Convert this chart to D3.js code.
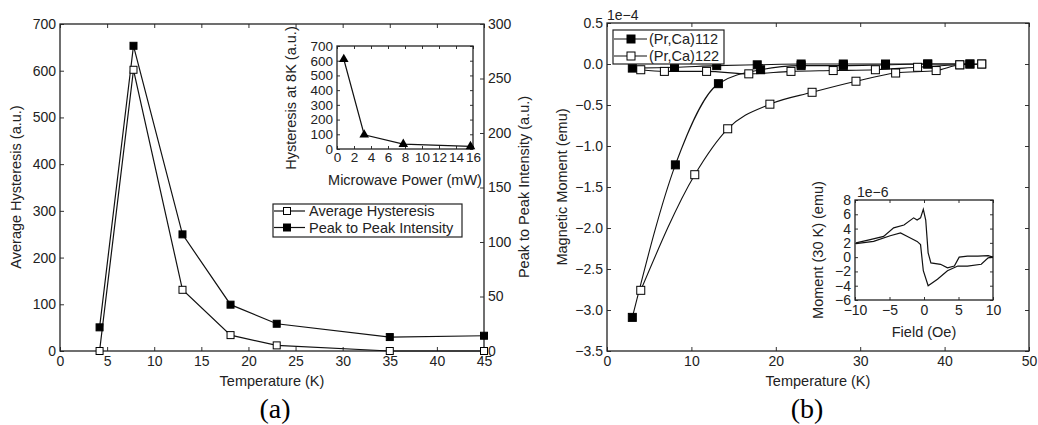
<!DOCTYPE html>
<html>
<head>
<meta charset="utf-8">
<script src="https://cdn.jsdelivr.net/npm/d3@7"></script>
<style>
  body { margin: 0; background: #fff; }
  text { font-family: "Liberation Sans", Arial, sans-serif; fill: #222; }
  .tick line { stroke: #333; }
  .caption { font-family: "Liberation Serif", "Times New Roman", serif; fill: #000; }
</style>
</head>
<body>
<svg id="chart" width="1038" height="425"></svg>
<script>
// ---- panel (a): temperature dependence ----
const tempA = [4.2, 7.8, 13, 18.1, 23, 35, 45];
const hysteresisA = [0, 602, 131, 34, 12, 0, 0];
const peakA = [21.7, 280, 107, 42.5, 25, 12.8, 14];

// panel (a) inset: hysteresis vs microwave power
const powerInset = [0.8, 3.2, 7.8, 15.7];
const hystInset = [610, 97, 33, 18];

// ---- panel (b): magnetic moment (x1e-4 emu) ----
const tempFC112 = [3, 8, 13, 17.8, 23, 28, 33, 38, 43];
const momFC112 = [-0.05, -0.04, -0.02, -0.01, 0, 0, 0, 0, 0];
const tempZFC112 = [3, 8.1, 13.2, 18.2, 23, 28, 33, 38, 43];
const momZFC112 = [-3.09, -1.23, -0.24, -0.07, -0.02, -0.02, -0.01, 0, 0];
const tempFC122 = [4, 6.8, 11.8, 16.8, 21.8, 26.8, 31.8, 36.8, 41.8, 44.4];
const momFC122 = [-0.07, -0.09, -0.09, -0.12, -0.09, -0.08, -0.07, -0.04, -0.01, 0];
const tempZFC122 = [4, 10.4, 14.3, 19.3, 24.3, 29.5, 34.2, 39, 41.8, 44.4];
const momZFC122 = [-2.76, -1.35, -0.79, -0.49, -0.345, -0.21, -0.11, -0.08, -0.01, 0];

// panel (b) inset: moment at 30 K vs field (x1e-6 emu)
const fieldUp = [-9.85, -7.8, -5.85, -4.4, -2.9, -1.5, -1.0, -0.5, -0.1, 0.25, 0.6, 1.0, 2.4, 3.4, 4.4, 5.1, 6.3, 7.8, 9.3, 10];
const momUp = [2.0, 2.45, 2.9, 4.1, 4.5, 5.5, 5.2, 5.5, 6.7, 5.2, 0.6, -0.8, -1.0, -1.5, -1.25, 0, 0.15, 0.15, 0.2, 0];
const fieldDown = [-9.85, -7.3, -4.9, -3.4, -2.4, -1.0, -0.5, -0.1, 0.6, 1.95, 3.4, 4.9, 6.3, 8.3, 9.3, 10];
const momDown = [1.9, 2.2, 3.0, 3.4, 2.9, 2.2, 1.75, -1.9, -4.0, -3.1, -1.9, -1.25, -1.25, -1.0, -0.1, 0];

const svg = d3.select("#chart");
const zip = (xs, ys) => xs.map((x, i) => [x, ys[i]]);

// draws a frame with inward ticks on all four sides
function frame(g, x, y, xTicks, yTicks, opts) {
  const [x0, x1] = x.range();
  const [y0, y1] = y.range(); // y0 bottom, y1 top
  const tk = opts.tick || 4;
  g.append("g").attr("transform", `translate(0,${y0})`)
    .call(d3.axisBottom(x).tickValues(xTicks).tickSize(-tk).tickSizeOuter(0).tickPadding(5).tickFormat(opts.xFmt || d3.format("d")))
    .call(a => a.select(".domain").remove());
  g.append("g").attr("transform", `translate(0,${y1})`)
    .call(d3.axisTop(x).tickValues(xTicks).tickSize(-tk).tickSizeOuter(0).tickFormat(""))
    .call(a => a.select(".domain").remove());
  g.append("g").attr("transform", `translate(${x0},0)`)
    .call(d3.axisLeft(y).tickValues(yTicks).tickSize(-tk).tickSizeOuter(0).tickPadding(4).tickFormat(opts.yFmt || d3.format("d")))
    .call(a => a.select(".domain").remove());
  if (!opts.noRight) {
    g.append("g").attr("transform", `translate(${x1},0)`)
      .call(d3.axisRight(y).tickValues(yTicks).tickSize(-tk).tickSizeOuter(0).tickFormat(""))
      .call(a => a.select(".domain").remove());
  }
  g.selectAll(".tick text").attr("font-size", opts.fs || 14).attr("font-family", "Liberation Sans, Arial, sans-serif").attr("fill", "#222");
  g.append("rect").attr("x", x0).attr("y", y1).attr("width", x1 - x0).attr("height", y0 - y1)
    .attr("fill", "none").attr("stroke", "#222").attr("stroke-width", 1.3);
}

function squares(g, pts, x, y, size, fill) {
  g.selectAll(null).data(pts).join("rect")
    .attr("x", d => x(d[0]) - size / 2).attr("y", d => y(d[1]) - size / 2)
    .attr("width", size).attr("height", size)
    .attr("fill", fill).attr("stroke", "#000").attr("stroke-width", 1);
}

// ================= panel (a) =================
const gA = svg.append("g");
const xA = d3.scaleLinear().domain([0, 45]).range([60, 484]);
const yA = d3.scaleLinear().domain([0, 700]).range([351, 24]);
const yA2 = d3.scaleLinear().domain([0, 300]).range([351, 24]);

frame(gA, xA, yA, d3.range(0, 46, 5), d3.range(0, 701, 100), { noRight: true });
gA.append("g").attr("transform", "translate(484,0)")
  .call(d3.axisRight(yA2).tickValues(d3.range(0, 301, 50)).tickSize(-4).tickSizeOuter(0).tickPadding(4))
  .call(a => a.select(".domain").remove())
  .call(a => a.selectAll(".tick text").attr("font-size", 14).attr("fill", "#222"));

const lineA = d3.line().x(d => xA(d[0])).y(d => yA(d[1]));
const lineA2 = d3.line().x(d => xA(d[0])).y(d => yA2(d[1]));
gA.append("path").attr("d", lineA(zip(tempA, hysteresisA))).attr("fill", "none").attr("stroke", "#111").attr("stroke-width", 1.2);
gA.append("path").attr("d", lineA2(zip(tempA, peakA))).attr("fill", "none").attr("stroke", "#111").attr("stroke-width", 1.2);
squares(gA, zip(tempA, hysteresisA), xA, yA, 7, "#fff");
squares(gA, zip(tempA, peakA), xA, yA2, 7, "#000");

gA.append("text").attr("x", 272).attr("y", 386).attr("text-anchor", "middle").attr("font-size", 14.5).text("Temperature (K)");
gA.append("text").attr("transform", "translate(21,187) rotate(-90)").attr("text-anchor", "middle").attr("font-size", 14.5).text("Average Hysteresis (a.u.)");
gA.append("text").attr("transform", "translate(529,187) rotate(-90)").attr("text-anchor", "middle").attr("font-size", 14.5).text("Peak to Peak Intensity (a.u.)");

// legend (a)
const legA = gA.append("g");
legA.append("rect").attr("x", 273).attr("y", 204).attr("width", 189).attr("height", 33)
  .attr("fill", "#fff").attr("stroke", "#222").attr("stroke-width", 1.2);
[["Average Hysteresis", "#fff", 211], ["Peak to Peak Intensity", "#000", 227.5]].forEach(([label, fill, cy]) => {
  legA.append("line").attr("x1", 274).attr("x2", 305).attr("y1", cy).attr("y2", cy).attr("stroke", "#111").attr("stroke-width", 1.2);
  legA.append("rect").attr("x", 287 - 3.5).attr("y", cy - 3.5).attr("width", 7).attr("height", 7).attr("fill", fill).attr("stroke", "#000");
  legA.append("text").attr("x", 309).attr("y", cy + 5).attr("font-size", 14.5).text(label);
});

// inset (a)
const gAi = gA.append("g");
const xAi = d3.scaleLinear().domain([0, 16]).range([337, 473]);
const yAi = d3.scaleLinear().domain([0, 700]).range([149, 46]);
gAi.append("rect").attr("x", 337).attr("y", 46).attr("width", 136).attr("height", 103).attr("fill", "#fff");
frame(gAi, xAi, yAi, d3.range(0, 17, 2), d3.range(0, 701, 100), { tick: 3, fs: 13.5 });
gAi.selectAll(".tick text").filter(function () { return this.parentNode.parentNode.getAttribute("transform").startsWith("translate(0"); })
  .attr("dy", "0.6em");
gAi.append("path").attr("d", d3.line().x(d => xAi(d[0])).y(d => yAi(d[1]))(zip(powerInset, hystInset)))
  .attr("fill", "none").attr("stroke", "#111").attr("stroke-width", 1.2);
gAi.selectAll(null).data(zip(powerInset, hystInset)).join("path")
  .attr("transform", d => `translate(${xAi(d[0])},${yAi(d[1])})`)
  .attr("d", d3.symbol(d3.symbolTriangle, 40)).attr("fill", "#000");
gAi.append("text").attr("x", 405).attr("y", 185).attr("text-anchor", "middle").attr("font-size", 14.5).text("Microwave Power (mW)");
gAi.append("text").attr("transform", "translate(296,98) rotate(-90)").attr("text-anchor", "middle").attr("font-size", 14.5).text("Hysteresis at 8K (a.u.)");

svg.append("text").attr("class", "caption").attr("x", 275).attr("y", 418).attr("text-anchor", "middle").attr("font-size", 28).text("(a)");

// ================= panel (b) =================
const gB = svg.append("g");
const xB = d3.scaleLinear().domain([0, 50]).range([607, 1029]);
const yB = d3.scaleLinear().domain([-3.5, 0.5]).range([351, 23]);
frame(gB, xB, yB, d3.range(0, 51, 10), d3.range(-3.5, 0.51, 0.5), { yFmt: d3.format(".1f") });

const smooth = d3.line().x(d => xB(d[0])).y(d => yB(d[1])).curve(d3.curveMonotoneX);
[[tempFC122, momFC122], [tempZFC122, momZFC122], [tempFC112, momFC112], [tempZFC112, momZFC112]].forEach(([t, m]) => {
  gB.append("path").attr("d", smooth(zip(t, m))).attr("fill", "none").attr("stroke", "#111").attr("stroke-width", 1.1);
});
squares(gB, zip(tempFC122, momFC122), xB, yB, 8, "#fff");
squares(gB, zip(tempZFC122, momZFC122), xB, yB, 8, "#fff");
squares(gB, zip(tempFC112, momFC112), xB, yB, 8, "#000");
squares(gB, zip(tempZFC112, momZFC112), xB, yB, 8, "#000");

gB.append("text").attr("x", 607).attr("y", 20).attr("font-size", 14).text("1e\u22124");
gB.append("text").attr("x", 818).attr("y", 386).attr("text-anchor", "middle").attr("font-size", 14.5).text("Temperature (K)");
gB.append("text").attr("transform", "translate(567,187) rotate(-90)").attr("text-anchor", "middle").attr("font-size", 14.5).text("Magnetic Moment (emu)");

// legend (b)
const legB = gB.append("g");
legB.append("rect").attr("x", 613).attr("y", 30).attr("width", 111).attr("height", 34)
  .attr("fill", "#fff").attr("stroke", "#222").attr("stroke-width", 1.2);
[["(Pr,Ca)112", "#000", 39], ["(Pr,Ca)122", "#fff", 56]].forEach(([label, fill, cy]) => {
  legB.append("line").attr("x1", 614).attr("x2", 647).attr("y1", cy).attr("y2", cy).attr("stroke", "#111").attr("stroke-width", 1.1);
  legB.append("rect").attr("x", 631 - 4).attr("y", cy - 4).attr("width", 8).attr("height", 8).attr("fill", fill).attr("stroke", "#000");
  legB.append("text").attr("x", 649).attr("y", cy + 5).attr("font-size", 14.5).text(label);
});

// inset (b)
const gBi = gB.append("g");
const xBi = d3.scaleLinear().domain([-10, 10]).range([855, 993]);
const yBi = d3.scaleLinear().domain([-6, 8]).range([300, 200]);
gBi.append("rect").attr("x", 855).attr("y", 200).attr("width", 138).attr("height", 100).attr("fill", "#fff");
frame(gBi, xBi, yBi, d3.range(-10, 11, 5), d3.range(-6, 9, 2), { tick: 3, fs: 14 });
const lineBi = d3.line().x(d => xBi(d[0])).y(d => yBi(d[1]));
gBi.append("path").attr("d", lineBi(zip(fieldUp, momUp))).attr("fill", "none").attr("stroke", "#111").attr("stroke-width", 1.2);
gBi.append("path").attr("d", lineBi(zip(fieldDown, momDown))).attr("fill", "none").attr("stroke", "#111").attr("stroke-width", 1.2);
gBi.append("text").attr("x", 857).attr("y", 197).attr("font-size", 14).text("1e\u22126");
gBi.append("text").attr("x", 924).attr("y", 337).attr("text-anchor", "middle").attr("font-size", 14.5).text("Field (Oe)");
gBi.append("text").attr("transform", "translate(823,250) rotate(-90)").attr("text-anchor", "middle").attr("font-size", 14.5).text("Moment (30 K) (emu)");

svg.append("text").attr("class", "caption").attr("x", 807).attr("y", 418).attr("text-anchor", "middle").attr("font-size", 28).text("(b)");
</script>
</body>
</html>
